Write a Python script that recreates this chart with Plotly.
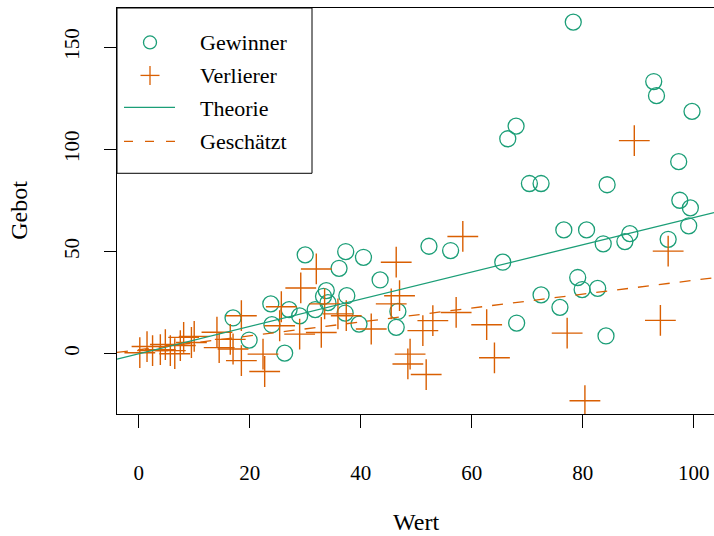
import plotly.graph_objects as go

# ---- data ----
gew_wert = [17.0, 19.9, 23.8, 24.0, 26.3, 27.1, 29.0, 30.0, 31.8, 33.8, 33.3, 34.1, 36.1, 37.3,
            37.5, 37.2, 39.7, 40.5, 43.5, 46.4, 46.7, 52.3, 56.2, 65.6, 66.5, 68.0, 68.1, 70.4,
            72.5, 72.5, 75.9, 76.6, 78.3, 79.1, 79.9, 80.7, 82.7, 83.7, 84.2, 84.4, 87.6, 88.5,
            92.8, 93.3, 95.4, 97.3, 97.5, 99.1, 99.4, 99.7]
gew_gebot = [17.5, 6.7, 24.4, 14.2, 0.3, 21.6, 18.5, 48.4, 21.6, 30.9, 28.1, 25.0, 41.8, 50.0,
             28.4, 19.9, 14.5, 47.2, 36.1, 12.9, 20.7, 52.6, 50.5, 44.8, 105.2, 111.4, 15.0, 83.3,
             83.3, 28.8, 22.7, 60.6, 162.3, 37.3, 31.4, 60.6, 32.0, 53.8, 8.7, 82.7, 54.9, 58.8,
             133.2, 126.3, 56.0, 94.0, 75.1, 62.6, 71.4, 118.6]

ver_wert = [0.2, 1.5, 2.5, 3.9, 4.8, 5.7, 6.5, 7.5, 8.1, 9.5, 10.0, 14.1, 14.5, 16.5, 17.0,
            18.5, 18.5, 22.4, 22.7, 25.4, 25.7, 29.0, 29.2, 32.0, 32.9, 33.5, 35.9, 37.4, 41.9,
            45.5, 46.4, 47.0, 48.5, 48.9, 51.2, 51.8, 53.0, 57.2, 58.4, 62.7, 64.1, 77.2, 80.4,
            89.3, 94.0, 95.4]
ver_gebot = [0.5, 3.5, 1.5, 2.0, 4.5, 1.5, 0.0, 4.0, 8.0, 5.5, 8.5, 10.5, 3.0, 7.0, 2.3,
             18.6, -3.4, -0.2, -8.7, 13.7, 23.0, 9.6, 32.2, 41.5, 10.4, 24.4, 19.5, 18.6, 12.1,
             24.4, 44.8, 28.4, -5.0, -0.2, 11.3, -10.2, 16.2, 20.2, 57.4, 14.2, -2.0, 10.1, -23.0,
             104.3, 16.3, 50.2]

theorie_steigung = 2 / 3
geschaetzt_achse = 1.95
geschaetzt_steigung = 0.34

x_ticks = [0, 20, 40, 60, 80, 100]
y_ticks = [0, 50, 100, 150]
legend_labels = ["Gewinner", "Verlierer", "Theorie", "Geschätzt"]

GREEN = "#1B9E77"
ORANGE = "#D95F02"
FONT = "Liberation Serif"

X_RANGE = [-3.91, 103.66]
Y_RANGE = [-29.5, 169.2]

# ---- figure ----
W, H = 714, 536
L, R, T, B = 117, 0, 7.5, 122
PW, PH = W - L - R, H - T - B

def px(xp):
    return (xp - L) / PW

def py(yp):
    return (H - B - yp) / PH

fig = go.Figure()

fig.add_trace(go.Scatter(
    x=gew_wert, y=gew_gebot, mode="markers", name=legend_labels[0],
    marker=dict(symbol="circle-open", size=16, color=GREEN, line=dict(width=1.3, color=GREEN)),
    showlegend=False))
fig.add_trace(go.Scatter(
    x=ver_wert, y=ver_gebot, mode="markers", name=legend_labels[1],
    marker=dict(symbol="cross-thin-open", size=22, color=ORANGE, line=dict(width=1.4, color=ORANGE)),
    showlegend=False))

xl = list(X_RANGE)
fig.add_trace(go.Scatter(
    x=xl, y=[theorie_steigung * v for v in xl], mode="lines", name=legend_labels[2],
    line=dict(color=GREEN, width=1.3), showlegend=False))
fig.add_trace(go.Scatter(
    x=xl, y=[geschaetzt_achse + geschaetzt_steigung * v for v in xl], mode="lines",
    name=legend_labels[3], line=dict(color=ORANGE, width=1.3, dash="11px,10px"), showlegend=False))

# ---- manual legend (R style) ----
shapes = []
shapes.append(dict(type="rect", xref="paper", yref="paper", x0=px(117), x1=px(312),
                   y0=py(173), y1=py(7.5), line=dict(color="black", width=1),
                   fillcolor="white", layer="above"))
shapes.append(dict(type="circle", xref="paper", yref="paper", x0=px(143.5), x1=px(156.5),
                   y0=py(48.5), y1=py(35.5), line=dict(color=GREEN, width=1.3), layer="above"))
shapes.append(dict(type="line", xref="paper", yref="paper", x0=px(140.5), x1=px(159.5),
                   y0=py(75), y1=py(75), line=dict(color=ORANGE, width=1.3), layer="above"))
shapes.append(dict(type="line", xref="paper", yref="paper", x0=px(150), x1=px(150),
                   y0=py(65.5), y1=py(84.5), line=dict(color=ORANGE, width=1.3), layer="above"))
shapes.append(dict(type="line", xref="paper", yref="paper", x0=px(124), x1=px(175),
                   y0=py(107), y1=py(107), line=dict(color=GREEN, width=1.3), layer="above"))
shapes.append(dict(type="line", xref="paper", yref="paper", x0=px(124), x1=px(176),
                   y0=py(141), y1=py(141), line=dict(color=ORANGE, width=1.3, dash="9px,12px"),
                   layer="above"))

annotations = []
for lab, yc in zip(legend_labels, [42, 75, 108, 141]):
    annotations.append(dict(text=lab, xref="paper", yref="paper", x=px(198), y=py(yc),
                            xanchor="left", yanchor="middle", showarrow=False,
                            font=dict(family=FONT, size=22, color="black")))
annotations.append(dict(text="Wert", xref="paper", yref="paper", x=px(416), y=py(522),
                        xanchor="center", yanchor="middle", showarrow=False,
                        font=dict(family=FONT, size=24, color="black")))
annotations.append(dict(text="Gebot", xref="paper", yref="paper", x=px(19), y=py(210.5),
                        xanchor="center", yanchor="middle", showarrow=False, textangle=-90,
                        font=dict(family=FONT, size=24, color="black")))

fig.update_layout(
    width=W, height=H, margin=dict(l=L, r=R, t=T, b=B, pad=0),
    paper_bgcolor="white", plot_bgcolor="white",
    shapes=shapes, annotations=annotations, showlegend=False,
    font=dict(family=FONT, size=21, color="black"),
    xaxis=dict(range=X_RANGE, tickvals=x_ticks, ticktext=[str(v) for v in x_ticks],
               showgrid=False, zeroline=False, showline=True, mirror=True,
               linecolor="black", linewidth=1, ticks="outside", ticklen=13,
               tickcolor="black", tickwidth=1, ticklabelstandoff=27,
               tickfont=dict(family=FONT, size=21, color="black")),
    yaxis=dict(range=Y_RANGE, tickvals=y_ticks, ticktext=[str(v) for v in y_ticks],
               showgrid=False, zeroline=False, showline=True, mirror=False,
               linecolor="black", linewidth=1, ticks="outside", ticklen=12,
               tickcolor="black", tickwidth=1, tickangle=-90, ticklabelstandoff=17,
               tickfont=dict(family=FONT, size=21, color="black")),
)

fig.write_html("out.html")
